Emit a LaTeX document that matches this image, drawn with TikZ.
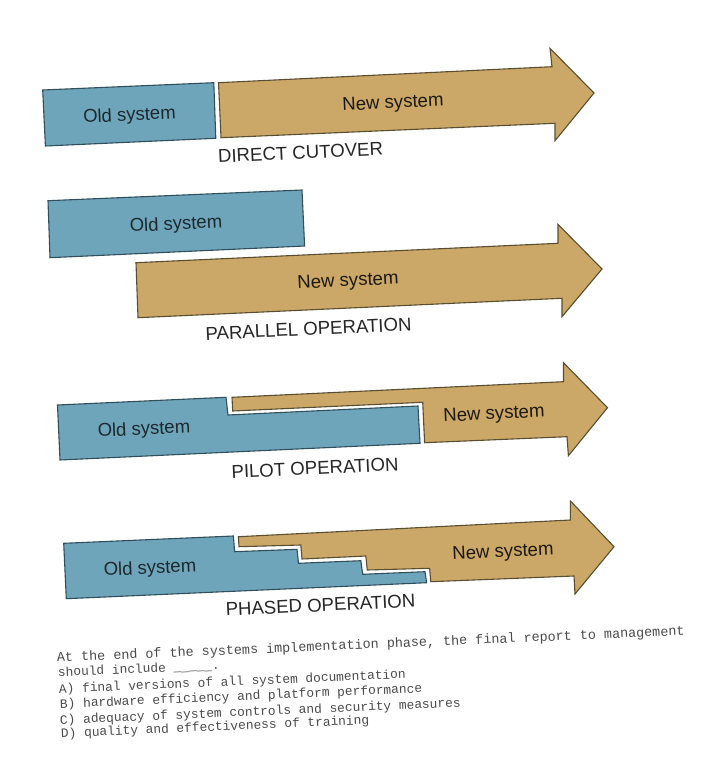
\documentclass[tikz,border=0pt]{standalone}
\usepackage{fontspec}
\setmainfont{Liberation Sans}
\newfontfamily\qfont{Liberation Mono}
\definecolor{oldblue}{HTML}{6FA5BA}
\definecolor{newtan}{HTML}{CBA768}
\definecolor{edgeblue}{HTML}{2F4F5C}
\definecolor{edgetan}{HTML}{5A4E30}
\definecolor{inkq}{HTML}{4A4A4A}
\tikzset{
  oldshape/.style={fill=oldblue,draw=edgeblue,line width=1.1pt,line join=miter},
  newshape/.style={fill=newtan,draw=edgetan,line width=1.1pt,line join=miter},
  oldlabel/.style={font=\fontsize{18.5}{20}\selectfont,text=black!75!oldblue,rotate=2.7,inner sep=0pt},
  newlabel/.style={font=\fontsize{18.6}{20}\selectfont,text=black!85!newtan,rotate=2.7,inner sep=0pt},
  caption/.style={font=\fontsize{18.6}{20}\selectfont,text=black!85,rotate=2.7,inner sep=0pt},
  qline/.style={font=\qfont\fontsize{12.85}{15}\selectfont,text=inkq,rotate=2.45,anchor=base west,inner sep=0pt},
  qlead/.style={qline,font=\qfont\fontsize{13.42}{15}\selectfont},
}
\begin{document}
\begin{tikzpicture}[x=1pt,y=-1pt]
\path[use as bounding box,fill=white] (0,0) rectangle (725,768);
% Direct cutover
\draw[oldshape] (42.7,90)--(213.8,82.7)--(215.8,138.3)--(45.4,146)--cycle;
\draw[newshape] (218.5,82.7)--(552,66.7)--(550,48.3)--(594,93)--(555,140.7)--(555,123.3)--(221,137.7)--cycle;
\node[oldlabel] (o1) at (129.5,116) {Old system};
\node[newlabel] (n1) at (393,104) {New system};
\node[caption] (c1) at (300.5,152.5) {DIRECT CUTOVER};
% Parallel
\draw[oldshape] (48,200.7)--(302,190)--(304.6,246)--(50,257.7)--cycle;
\draw[newshape] (136,262.7)--(558,243.3)--(558,224.3)--(602,269)--(562,316.7)--(562,298.3)--(138,317.7)--cycle;
\node[oldlabel] (o2) at (176,225) {Old system};
\node[newlabel] (n2) at (348,282) {New system};
\node[caption] (c2) at (308.5,329) {PARALLEL OPERATION};
% Pilot
\draw[oldshape] (57.5,405)--(226,397.3)--(228,415)--(418,406)--(420,443.3)--(60,460)--cycle;
\draw[newshape] (232,397.3)--(563.5,381.7)--(563.5,362.7)--(607.5,407.7)--(568.4,455.7)--(567,436.7)--(424.6,442.7)--(422.7,402.3)--(232.7,411)--cycle;
\node[oldlabel] (o3) at (144,430) {Old system};
\node[newlabel] (n3) at (494,415) {New system};
\node[caption] (c3) at (315,468) {PILOT OPERATION};
% Phased
\draw[oldshape] (63.7,543.3)--(233.4,536)--(234.6,551.7)--(297,549.3)--(298.5,563.3)--(360.8,560.7)--(362.7,574.3)--(425,571.7)--(426.6,582.7)--(66.3,598.7)--cycle;
\draw[newshape] (238.4,536.7)--(570.4,520)--(570.4,501)--(614,546.7)--(575,594)--(574,576)--(430.8,581.7)--(429.6,568.3)--(367.3,570)--(365.8,556)--(302,559)--(300.8,545)--(239,546.7)--cycle;
\node[oldlabel] (o4) at (150,569) {Old system};
\node[newlabel] (n4) at (503,553) {New system};
\node[caption] (c4) at (320.5,605) {PHASED OPERATION};
% Question
\node[qlead] (q0) at (57,662) {At the end of the systems implementation phase, the final report to management};
\node[qline] (q1) at (58,676.5) {should include \_\_\_\_\_.};
\node[qline] (q2) at (59,693) {A) final versions of all system documentation};
\node[qline] (q3) at (60,708) {B) hardware efficiency and platform performance};
\node[qline] (q4) at (60,724) {C) adequacy of system controls and security measures};
\node[qline] (q5) at (61,737.5) {D) quality and effectiveness of training};
\end{tikzpicture}
\end{document}
